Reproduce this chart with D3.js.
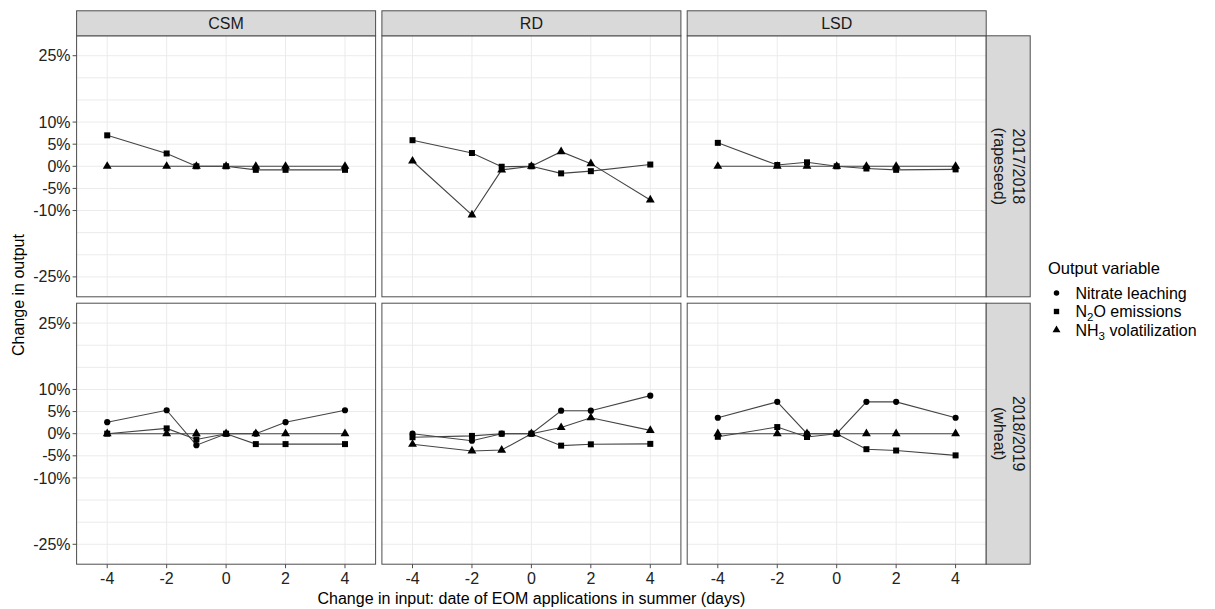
<!DOCTYPE html>
<html>
<head>
<meta charset="utf-8">
<script src="https://cdn.jsdelivr.net/npm/d3@7"></script>
<style>
  html, body { margin: 0; padding: 0; background: #fff; }
  svg text { font-family: "Liberation Sans", Arial, sans-serif; }
</style>
</head>
<body>
<svg id="chart" width="1215" height="609"></svg>
<script>
// ---------------- DATA ----------------
const xDays = [-4, -2, -1, 0, 1, 2, 4];
const xTicks = [-4, -2, 0, 2, 4];
const xTickLabels = ["-4", "-2", "0", "2", "4"];
const yTicks = [25, 10, 5, 0, -5, -10, -25];
const yTickLabels = ["25%", "10%", "5%", "0%", "-5%", "-10%", "-25%"];
const yGrid = [25, 20, 15, 10, 5, 0, -5, -10, -15, -20, -25];
const models = ["CSM", "RD", "LSD"];
const seasonLine1 = ["2017/2018", "2018/2019"];
const seasonLine2 = ["(rapeseed)", "(wheat)"];
const variables = ["Nitrate leaching", "N2O emissions", "NH3 volatilization"];

// 2017/2018 (rapeseed)
const n2o_1718_CSM = [7.0, 2.9, 0, 0, -0.8, -0.8, -0.8];
const nh3_1718_CSM = [0, 0, 0, 0, 0, 0, 0];
const n2o_1718_RD  = [5.9, 3.0, -0.1, 0, -1.6, -1.1, 0.4];
const nh3_1718_RD  = [1.2, -11.0, -0.8, 0, 3.3, 0.6, -7.6];
const n2o_1718_LSD = [5.3, 0.3, 0.9, 0, -0.5, -0.8, -0.7];
const nh3_1718_LSD = [0, 0, 0, 0, 0, 0, 0];
// 2018/2019 (wheat)
const nit_1819_CSM = [2.6, 5.3, -2.6, 0, 0, 2.6, 5.3];
const n2o_1819_CSM = [0, 1.2, -1.3, 0, -2.35, -2.35, -2.35];
const nh3_1819_CSM = [0, 0, 0, 0, 0, 0, 0];
const nit_1819_RD  = [0, -1.6, 0, 0, 5.2, 5.2, 8.6];
const n2o_1819_RD  = [-0.8, -0.5, 0, 0, -2.7, -2.4, -2.3];
const nh3_1819_RD  = [-2.4, -3.9, -3.7, 0, 1.4, 3.6, 0.75];
const nit_1819_LSD = [3.6, 7.2, 0, 0, 7.2, 7.2, 3.6];
const n2o_1819_LSD = [-0.7, 1.5, -0.75, 0, -3.5, -3.8, -4.9];
const nh3_1819_LSD = [0, 0, 0, 0, 0, 0, 0];

// panels[row][col] = list of [variableIndex, values]
const panels = [
  [ [[1, n2o_1718_CSM], [2, nh3_1718_CSM]],
    [[1, n2o_1718_RD],  [2, nh3_1718_RD]],
    [[1, n2o_1718_LSD], [2, nh3_1718_LSD]] ],
  [ [[0, nit_1819_CSM], [1, n2o_1819_CSM], [2, nh3_1819_CSM]],
    [[0, nit_1819_RD],  [1, n2o_1819_RD],  [2, nh3_1819_RD]],
    [[0, nit_1819_LSD], [1, n2o_1819_LSD], [2, nh3_1819_LSD]] ]
];

// ---------------- LAYOUT ----------------
const svg = d3.select("#chart");
const colX0 = 76.6, colStep = 305.3, panelW = 299;
const rowY0 = 35.8, rowStep = 267.4, panelH = 261;
const stripTopH = 25, stripRightW = 44;

const x = d3.scaleLinear().domain([-5.03, 5.03]).range([0, panelW]);
const y = d3.scaleLinear().domain([-29.5, 29.5]).range([panelH, 0]);

const symbolTypes = [d3.symbolCircle, d3.symbolSquare, d3.symbolTriangle];
const symbolSizes = [30, 36, 34];
const line = d3.line().x((d, i) => x(xDays[i])).y(d => y(d));

const gridColor = "#ebebeb";
const borderColor = "#4d4d4d";
const stripFill = "#d9d9d9";
const textColor = "#222222";

svg.append("rect").attr("width", 1215).attr("height", 609).attr("fill", "#fff");

for (let r = 0; r < 2; r++) {
  for (let c = 0; c < 3; c++) {
    const g = svg.append("g")
      .attr("transform", `translate(${colX0 + c * colStep},${rowY0 + r * rowStep})`);
    g.append("rect").attr("width", panelW).attr("height", panelH).attr("fill", "#fff");
    // grid
    g.selectAll(".hg").data(yGrid).join("line")
      .attr("x1", 0).attr("x2", panelW)
      .attr("y1", d => y(d)).attr("y2", d => y(d))
      .attr("stroke", gridColor).attr("stroke-width", 1);
    g.selectAll(".vg").data(xTicks).join("line")
      .attr("y1", 0).attr("y2", panelH)
      .attr("x1", d => x(d)).attr("x2", d => x(d))
      .attr("stroke", gridColor).attr("stroke-width", 1);
    // lines
    panels[r][c].forEach(([vi, vals]) => {
      g.append("path").datum(vals).attr("d", line)
        .attr("fill", "none").attr("stroke", "#444").attr("stroke-width", 1.1);
    });
    // points
    panels[r][c].forEach(([vi, vals]) => {
      g.selectAll(null).data(vals).join("path")
        .attr("d", d3.symbol().type(symbolTypes[vi]).size(symbolSizes[vi]))
        .attr("transform", (d, i) => `translate(${x(xDays[i])},${y(d)})`)
        .attr("fill", "#000");
    });
    // border
    g.append("rect").attr("width", panelW).attr("height", panelH)
      .attr("fill", "none").attr("stroke", borderColor).attr("stroke-width", 1);

    // top strips
    if (r === 0) {
      const s = svg.append("g").attr("transform", `translate(${colX0 + c * colStep},${rowY0 - stripTopH})`);
      s.append("rect").attr("width", panelW).attr("height", stripTopH)
        .attr("fill", stripFill).attr("stroke", borderColor).attr("stroke-width", 1);
      s.append("text").attr("x", panelW / 2).attr("y", stripTopH / 2 + 5.5)
        .attr("text-anchor", "middle").attr("font-size", 16).attr("fill", "#1a1a1a")
        .text(models[c]);
    }
    // right strips
    if (c === 2) {
      const sx = colX0 + c * colStep + panelW;
      const s = svg.append("g").attr("transform", `translate(${sx},${rowY0 + r * rowStep})`);
      s.append("rect").attr("width", stripRightW).attr("height", panelH)
        .attr("fill", stripFill).attr("stroke", borderColor).attr("stroke-width", 1);
      const t = s.append("g").attr("transform", `translate(${stripRightW / 2},${panelH / 2}) rotate(90)`);
      t.append("text").attr("x", 0).attr("y", -4.5).attr("text-anchor", "middle")
        .attr("font-size", 16).attr("fill", "#1a1a1a").text(seasonLine1[r]);
      t.append("text").attr("x", 0).attr("y", 14).attr("text-anchor", "middle")
        .attr("font-size", 16).attr("fill", "#1a1a1a").text(seasonLine2[r]);
    }
    // y axis on first column
    if (c === 0) {
      const ay = g.append("g");
      ay.selectAll("line").data(yTicks).join("line")
        .attr("x1", -4).attr("x2", 0).attr("y1", d => y(d)).attr("y2", d => y(d))
        .attr("stroke", borderColor);
      ay.selectAll("text").data(yTicks).join("text")
        .attr("x", -6).attr("y", d => y(d) + 5.6).attr("text-anchor", "end")
        .attr("font-size", 16).attr("fill", textColor)
        .text((d, i) => yTickLabels[i]);
    }
    // x axis on bottom row
    if (r === 1) {
      const ax = g.append("g").attr("transform", `translate(0,${panelH})`);
      ax.selectAll("line").data(xTicks).join("line")
        .attr("x1", d => x(d)).attr("x2", d => x(d)).attr("y1", 0).attr("y2", 4)
        .attr("stroke", borderColor);
      ax.selectAll("text").data(xTicks).join("text")
        .attr("x", d => x(d)).attr("y", 19.5).attr("text-anchor", "middle")
        .attr("font-size", 16).attr("fill", textColor)
        .text((d, i) => xTickLabels[i]);
    }
  }
}

// axis titles
const plotCx = colX0 + (2 * colStep + panelW) / 2;
svg.append("text").attr("x", plotCx).attr("y", 603.5).attr("text-anchor", "middle")
  .attr("font-size", 16).attr("fill", "#000")
  .text("Change in input: date of EOM applications in summer (days)");
svg.append("text").attr("transform", "translate(23.5,295) rotate(-90)")
  .attr("text-anchor", "middle").attr("font-size", 16).attr("fill", "#000")
  .text("Change in output");

// legend
const lg = svg.append("g").attr("transform", "translate(1048,0)");
lg.append("text").attr("x", 0).attr("y", 274).attr("font-size", 16.5).attr("fill", "#000")
  .text("Output variable");
const legY = [293, 311.5, 330];
const legLabels = [
  [["Nitrate leaching", null]],
  [["N", null], ["2", "sub"], ["O emissions", null]],
  [["NH", null], ["3", "sub"], [" volatilization", null]]
];
variables.forEach((v, i) => {
  lg.append("path").attr("d", d3.symbol().type(symbolTypes[i]).size(symbolSizes[i] * 0.8))
    .attr("transform", `translate(8.5,${legY[i]})`).attr("fill", "#000");
  const t = lg.append("text").attr("x", 27.5).attr("y", legY[i] + 5.5)
    .attr("font-size", 16).attr("fill", "#000");
  legLabels[i].forEach(([s, kind]) => {
    if (kind === "sub") {
      t.append("tspan").attr("font-size", 11.5).attr("dy", 4).text(s);
    } else {
      const ts = t.append("tspan").text(s);
      if (i > 0 && s !== legLabels[i][0][0]) ts.attr("dy", -4);
    }
  });
});
</script>
</body>
</html>
